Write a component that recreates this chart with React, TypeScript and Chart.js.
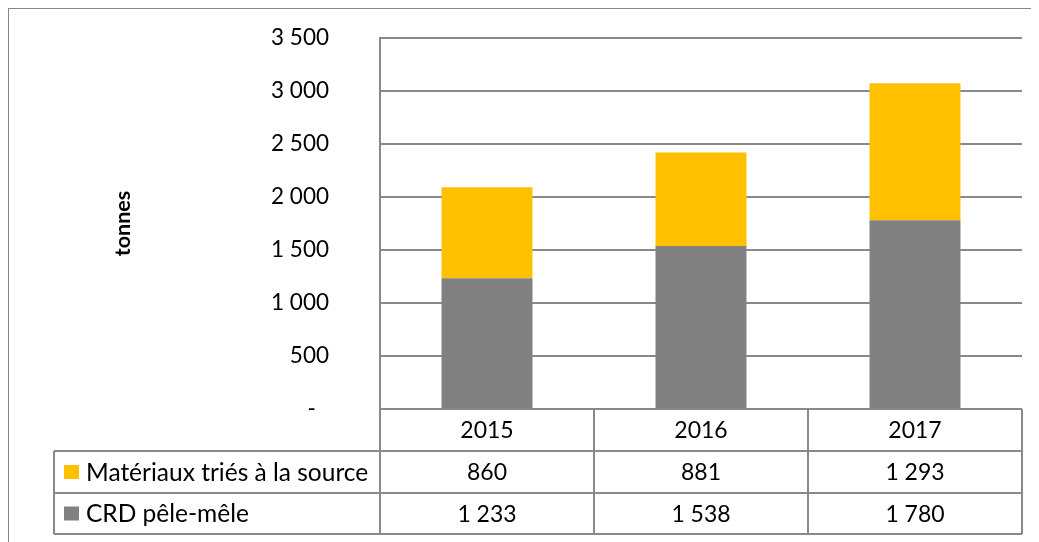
import React, { useEffect, useRef } from "react";
import { Chart, registerables } from "chart.js";

Chart.register(...registerables);

const years = ["2015", "2016", "2017"];
const seriesNames = ["Matériaux triés à la source", "CRD pêle-mêle"];
const materiaux = [860, 881, 1293];
const crd = [1233, 1538, 1780];
const yTicks = [0, 500, 1000, 1500, 2000, 2500, 3000, 3500];

const YELLOW = "#FFC000";
const GREY = "#808080";
const LINE = "#898989";
const FONT = "Lato, 'Open Sans', sans-serif";

const fmt = (v: number) => {
  if (v === 0) return "-\u2007";
  const s = String(Math.round(v));
  return s.replace(/\B(?=(\d{3})+(?!\d))/g, "\u00a0");
};

const tablePlugin = {
  id: "dataTable",
  afterDraw(chart: any) {
    const { ctx, chartArea } = chart;
    const x = chart.scales.x;
    const left = chartArea.left;
    const right = chartArea.right;
    const y0 = chartArea.bottom;
    const y1 = y0 + 42;
    const y2 = y1 + 42;
    const y3 = y2 + 41;
    const legendLeft = 45;
    const half = (x.getPixelForValue(1) - x.getPixelForValue(0)) / 2;
    ctx.save();
    ctx.strokeStyle = LINE;
    ctx.lineWidth = 2;
    ctx.beginPath();
    ctx.moveTo(left, chartArea.top);
    ctx.lineTo(left, y3);
    ctx.moveTo(left, y0);
    ctx.lineTo(right, y0);
    [y1, y2, y3].forEach((yy) => {
      ctx.moveTo(legendLeft, yy);
      ctx.lineTo(right, yy);
    });
    ctx.moveTo(legendLeft, y1);
    ctx.lineTo(legendLeft, y3);
    years.forEach((_, i) => {
      const xr = Math.min(x.getPixelForValue(i) + half, right);
      ctx.moveTo(xr, y0);
      ctx.lineTo(xr, y3);
    });
    ctx.stroke();

    ctx.fillStyle = "#000";
    ctx.font = `23px ${FONT}`;
    ctx.textBaseline = "middle";
    ctx.textAlign = "center";
    years.forEach((yr, i) => {
      const cx = x.getPixelForValue(i);
      ctx.fillText(yr, cx, (y0 + y1) / 2 + 1);
      ctx.fillText(fmt(materiaux[i]), cx, (y1 + y2) / 2 + 1);
      ctx.fillText(fmt(crd[i]), cx, (y2 + y3) / 2 + 1);
    });
    ctx.textAlign = "left";
    ctx.font = `24.5px ${FONT}`;
    const rows = [
      { name: seriesNames[0], color: YELLOW, top: y1, bot: y2 },
      { name: seriesNames[1], color: GREY, top: y2, bot: y3 },
    ];
    rows.forEach((r) => {
      const cy = (r.top + r.bot) / 2;
      ctx.fillStyle = r.color;
      ctx.fillRect(55, cy - 7, 15, 14);
      ctx.fillStyle = "#000";
      ctx.fillText(r.name, 77, cy + 1);
    });
    ctx.restore();
  },
};

export default function App() {
  const ref = useRef<HTMLCanvasElement | null>(null);
  useEffect(() => {
    document.documentElement.style.overflow = "hidden";
    document.body.style.overflow = "hidden";
    if (!ref.current) return;
    const chart = new Chart(ref.current, {
      type: "bar",
      data: {
        labels: years,
        datasets: [
          {
            label: seriesNames[1],
            data: crd,
            backgroundColor: GREY,
            categoryPercentage: 1,
            barPercentage: 0.425,
          },
          {
            label: seriesNames[0],
            data: materiaux,
            backgroundColor: YELLOW,
            categoryPercentage: 1,
            barPercentage: 0.425,
          },
        ],
      },
      options: {
        animation: false,
        responsive: false,
        devicePixelRatio: 1,
        layout: { padding: { top: 29, right: 17, bottom: 133, left: 0 } },
        plugins: { legend: { display: false }, tooltip: { enabled: false } },
        scales: {
          x: { stacked: true, display: false },
          y: {
            stacked: true,
            min: 0,
            max: 3500,
            afterFit: (s: any) => {
              s.width = 371;
              s.paddingTop = 0;
              s.paddingBottom = 0;
            },
            afterBuildTicks: (s: any) => {
              s.ticks = yTicks.map((v) => ({ value: v }));
            },
            grid: { color: LINE, lineWidth: 2, drawTicks: false },
            border: { display: true, color: LINE, width: 2 },
            ticks: {
              padding: 51,
              color: "#000",
              font: { family: FONT, size: 22.5 },
              callback: (v: any) => fmt(Number(v)),
            },
            title: {
              display: true,
              text: "tonnes",
              color: "#000",
              font: { family: FONT, size: 21.5, weight: "bold" },
              padding: { top: 101, bottom: 0 },
            },
          },
        },
      },
      plugins: [tablePlugin],
    });
    return () => chart.destroy();
  }, []);
  return (
    <div
      style={{
        width: 1030,
        height: 533,
        borderTop: "1px solid #868686",
        borderLeft: "1px solid #868686",
        background: "#fff",
      }}
    >
      <canvas ref={ref} width={1030} height={533} style={{ display: "block" }} />
    </div>
  );
}
